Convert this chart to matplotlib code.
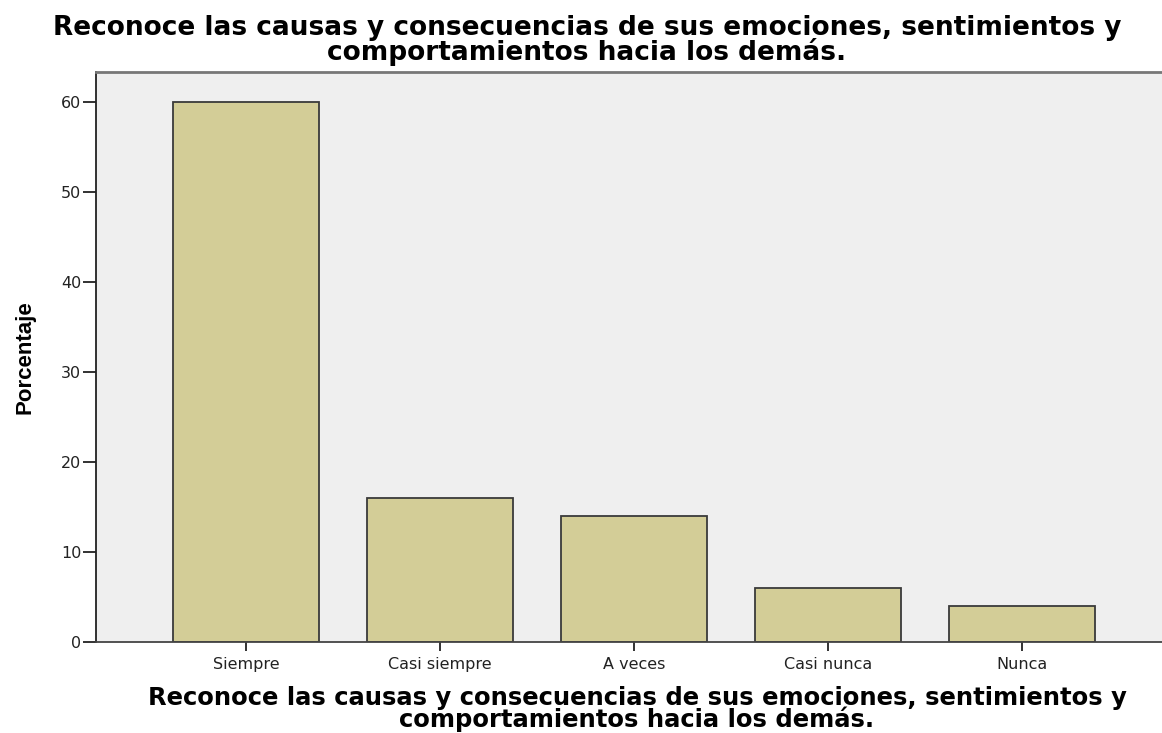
import matplotlib.pyplot as plt
import numpy as np

plt.rcParams['font.family'] = ['DejaVu Sans']

categorias = ['Siempre', 'Casi siempre', 'A veces', 'Casi nunca', 'Nunca']
porcentajes = [60, 16, 14, 6, 4]
titulo = 'Reconoce las causas y consecuencias de sus emociones, sentimientos y\ncomportamientos hacia los demás.'

fig = plt.figure(figsize=(11.62, 7.33), dpi=100)
ax = fig.add_axes([96/1162, (733-642)/733, 1 - 96/1162, (642-72)/733])
ax.set_facecolor('#efefef')

x = np.arange(len(categorias))
ax.bar(x, porcentajes, width=0.75, color='#d3cd97', edgecolor='#3a3a3a', linewidth=1.3, zorder=2)

ax.set_xlim(-0.773, 4.72)
ax.set_ylim(0, 63.3)
ax.set_yticks([0, 10, 20, 30, 40, 50, 60])
ax.set_xticks(x)
ax.set_xticklabels(categorias)
ax.tick_params(axis='both', labelsize=11.5, colors='#222222', width=1.3)
ax.tick_params(axis='x', length=6.5, pad=4)
ax.tick_params(axis='y', length=9.5, pad=1)

ax.spines['right'].set_visible(False)
ax.spines['top'].set_color('#777777')
ax.spines['top'].set_linewidth(2)
ax.spines['left'].set_linewidth(1.3)
ax.spines['bottom'].set_linewidth(1.3)
ax.spines['left'].set_color('#222222')
ax.spines['bottom'].set_color('#444444')

ax.set_ylabel('Porcentaje', fontsize=16, fontweight='bold', family='Liberation Sans',
              fontstretch='condensed', va='center')
ax.yaxis.set_label_coords(-0.0665, 0.5)
ax.set_xlabel(titulo, fontsize=17.5, fontweight='bold', linespacing=0.85, va='center')
ax.xaxis.set_label_coords(0.5075, -0.1175)
fig.text(0.505, 0.945, titulo, fontsize=19, fontweight='bold', ha='center', va='center',
         linespacing=0.85)

fig.savefig('out.png', dpi=100)
